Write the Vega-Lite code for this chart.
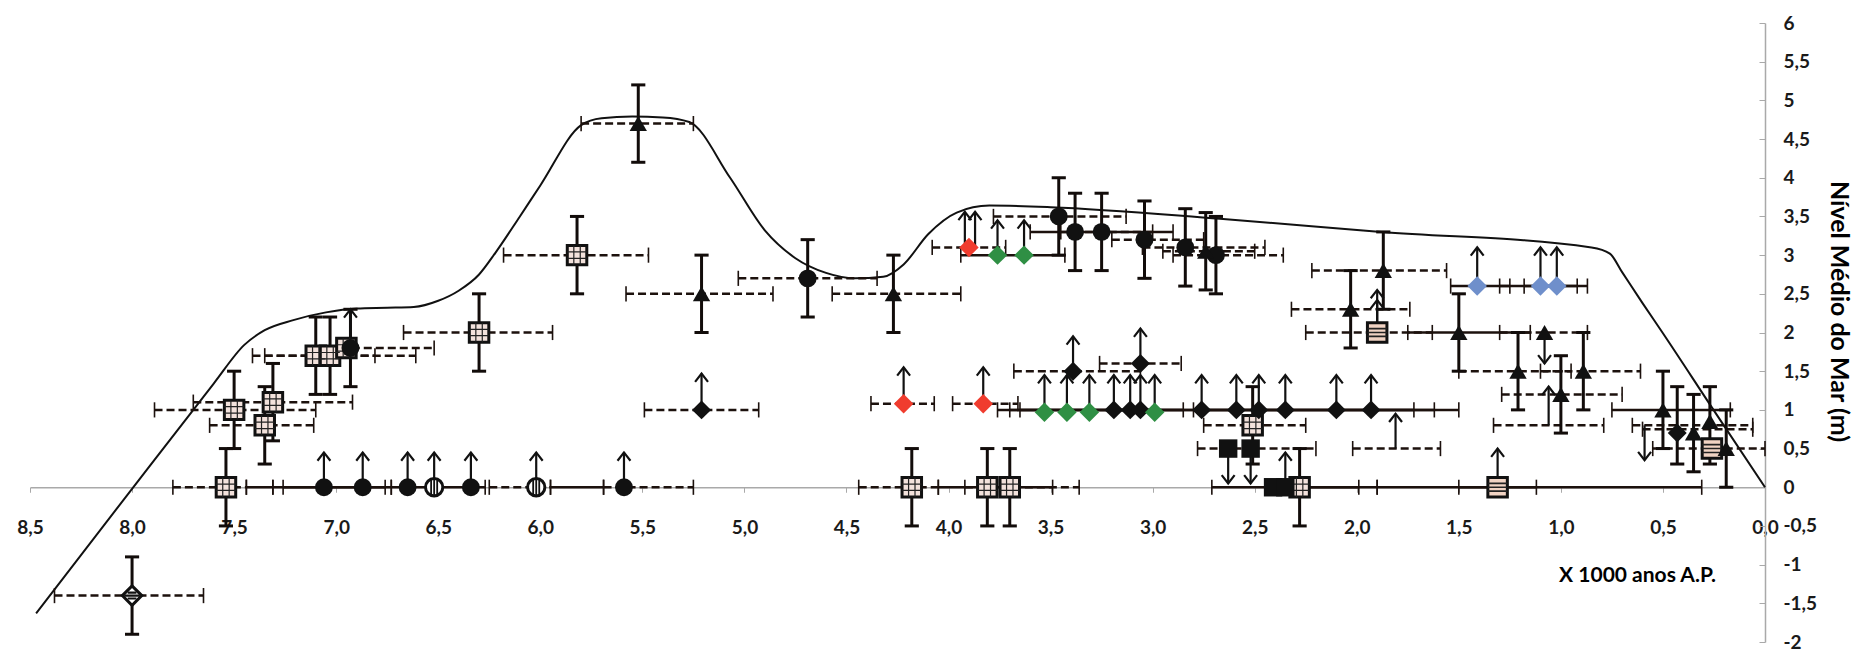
{
  "$schema": "https://vega.github.io/schema/vega-lite/v6.json",
  "width": 1735,
  "height": 619,
  "autosize": "none",
  "padding": {"left": 30, "top": 23, "right": 91, "bottom": 11},
  "background": "white",
  "config": {"view": {"stroke": null}, "font": "Lato"},
  "datasets": {
    "curve": [
      {"x": 8.47, "y": -1.63}, {"x": 8.0, "y": -0.02}, {"x": 7.6, "y": 1.34}, {"x": 7.45, "y": 1.84},
      {"x": 7.35, "y": 2.03}, {"x": 7.21, "y": 2.16}, {"x": 7.05, "y": 2.26}, {"x": 6.9, "y": 2.31},
      {"x": 6.75, "y": 2.32}, {"x": 6.62, "y": 2.33}, {"x": 6.5, "y": 2.41}, {"x": 6.4, "y": 2.54},
      {"x": 6.3, "y": 2.75}, {"x": 6.22, "y": 3.03}, {"x": 6.1, "y": 3.5}, {"x": 6.0, "y": 3.9}, {"x": 5.8, "y": 4.68},
      {"x": 5.7, "y": 4.77}, {"x": 5.55, "y": 4.79}, {"x": 5.4, "y": 4.78}, {"x": 5.27, "y": 4.72},
      {"x": 5.07, "y": 4.0}, {"x": 4.9, "y": 3.32}, {"x": 4.75, "y": 2.96}, {"x": 4.6, "y": 2.77},
      {"x": 4.46, "y": 2.7}, {"x": 4.32, "y": 2.72}, {"x": 4.22, "y": 2.88}, {"x": 4.1, "y": 3.27},
      {"x": 3.96, "y": 3.55}, {"x": 3.8, "y": 3.64}, {"x": 3.5, "y": 3.62}, {"x": 2.67, "y": 3.47},
      {"x": 1.88, "y": 3.3}, {"x": 0.85, "y": 3.1}, {"x": 0.76, "y": 3.02}, {"x": 0.7, "y": 2.78},
      {"x": 0.6, "y": 2.38}, {"x": 0.5, "y": 1.99}, {"x": 0.25, "y": 0.99}, {"x": 0.0, "y": 0.0}
    ],
    "hbar": [
      {"y": 0, "x": 7.8, "x2": 7.44, "k": "d"},
      {"y": 0, "x": 7.44, "x2": 7.31, "k": "s"},
      {"y": 0, "x": 7.26, "x2": 6.76, "k": "s"},
      {"y": 0, "x": 7.31, "x2": 6.73, "k": "s"},
      {"y": 0, "x": 6.73, "x2": 6.27, "k": "s"},
      {"y": 0, "x": 6.25, "x2": 5.95, "k": "d"},
      {"y": 0, "x": 5.95, "x2": 5.69, "k": "s"},
      {"y": 0, "x": 5.69, "x2": 5.25, "k": "d"},
      {"y": 1.0, "x": 7.89, "x2": 7.1, "k": "d"},
      {"y": 1.1, "x": 7.7, "x2": 6.92, "k": "d"},
      {"y": 0.8, "x": 7.62, "x2": 7.11, "k": "d"},
      {"y": 1.7, "x": 7.41, "x2": 6.81, "k": "d"},
      {"y": 1.7, "x": 7.35, "x2": 6.61, "k": "d"},
      {"y": 1.8, "x": 7.1, "x2": 6.52, "k": "d"},
      {"y": 2.0, "x": 6.67, "x2": 5.94, "k": "d"},
      {"y": 3.0, "x": 6.18, "x2": 5.47, "k": "d"},
      {"y": 4.7, "x": 5.8, "x2": 5.25, "k": "d"},
      {"y": 2.5, "x": 5.58, "x2": 4.86, "k": "d"},
      {"y": 2.7, "x": 5.03, "x2": 4.35, "k": "d"},
      {"y": 2.5, "x": 4.57, "x2": 3.94, "k": "d"},
      {"y": 1.0, "x": 5.49, "x2": 4.93, "k": "d"},
      {"y": -1.4, "x": 8.38, "x2": 7.65, "k": "d"},
      {"y": 0, "x": 4.44, "x2": 4.05, "k": "d"},
      {"y": 0, "x": 4.05, "x2": 3.49, "k": "s"},
      {"y": 0, "x": 3.92, "x2": 3.36, "k": "d"},
      {"y": 1.08, "x": 4.38, "x2": 4.07, "k": "d"},
      {"y": 1.08, "x": 3.98, "x2": 3.66, "k": "d"},
      {"y": 1.0, "x": 3.76, "x2": 2.85, "k": "s"},
      {"y": 1.0, "x": 3.7, "x2": 1.72, "k": "s"},
      {"y": 1.0, "x": 3.65, "x2": 1.62, "k": "s"},
      {"y": 1.0, "x": 2.8, "x2": 1.5, "k": "s"},
      {"y": 1.5, "x": 3.68, "x2": 3.06, "k": "d"},
      {"y": 1.6, "x": 3.26, "x2": 2.86, "k": "d"},
      {"y": 3.1, "x": 4.08, "x2": 3.72, "k": "d"},
      {"y": 3.0, "x": 3.94, "x2": 3.43, "k": "s"},
      {"y": 3.5, "x": 3.78, "x2": 3.13, "k": "d"},
      {"y": 3.3, "x": 3.6, "x2": 2.9, "k": "s"},
      {"y": 3.3, "x": 3.45, "x2": 3.0, "k": "d"},
      {"y": 3.2, "x": 3.2, "x2": 2.75, "k": "d"},
      {"y": 3.1, "x": 3.05, "x2": 2.45, "k": "d"},
      {"y": 3.05, "x": 2.95, "x2": 2.5, "k": "d"},
      {"y": 3.0, "x": 2.9, "x2": 2.36, "k": "d"},
      {"y": 0.5, "x": 2.78, "x2": 2.2, "k": "d"},
      {"y": 0.8, "x": 2.75, "x2": 2.25, "k": "d"},
      {"y": 0, "x": 2.71, "x2": 1.99, "k": "s"},
      {"y": 0, "x": 2.28, "x2": 1.9, "k": "s"},
      {"y": 0, "x": 1.9, "x2": 1.12, "k": "s"},
      {"y": 0, "x": 1.5, "x2": 0.31, "k": "s"},
      {"y": 0.5, "x": 2.02, "x2": 1.59, "k": "d"},
      {"y": 2.8, "x": 2.22, "x2": 1.56, "k": "d"},
      {"y": 2.3, "x": 2.32, "x2": 1.74, "k": "d"},
      {"y": 2.0, "x": 2.25, "x2": 1.63, "k": "d"},
      {"y": 2.6, "x": 1.54, "x2": 1.25, "k": "s"},
      {"y": 2.6, "x": 1.3, "x2": 0.87, "k": "s"},
      {"y": 2.6, "x": 1.18, "x2": 0.92, "k": "s"},
      {"y": 2.0, "x": 1.75, "x2": 1.15, "k": "s"},
      {"y": 2.0, "x": 1.3, "x2": 0.87, "k": "d"},
      {"y": 1.5, "x": 1.5, "x2": 0.95, "k": "d"},
      {"y": 1.5, "x": 1.1, "x2": 0.61, "k": "d"},
      {"y": 1.2, "x": 1.29, "x2": 0.7, "k": "d"},
      {"y": 0.8, "x": 1.33, "x2": 0.79, "k": "d"},
      {"y": 1.0, "x": 0.75, "x2": 0.17, "k": "s"},
      {"y": 0.8, "x": 0.65, "x2": 0.06, "k": "d"},
      {"y": 0.75, "x": 0.6, "x2": 0.06, "k": "d"},
      {"y": 0.5, "x": 0.55, "x2": 0.0, "k": "d"}
    ],
    "vbar": [
      {"x": 8.0, "y": -1.9, "y2": -0.9}, {"x": 7.54, "y": -0.5, "y2": 0.5}, {"x": 7.5, "y": 0.5, "y2": 1.5},
      {"x": 7.31, "y": 0.6, "y2": 1.6}, {"x": 7.35, "y": 0.3, "y2": 1.3}, {"x": 7.1, "y": 1.2, "y2": 2.2},
      {"x": 7.03, "y": 1.2, "y2": 2.2}, {"x": 6.93, "y": 1.3, "y2": 2.3}, {"x": 6.3, "y": 1.5, "y2": 2.5},
      {"x": 5.82, "y": 2.5, "y2": 3.5}, {"x": 5.52, "y": 4.2, "y2": 5.2}, {"x": 5.21, "y": 2.0, "y2": 3.0},
      {"x": 4.69, "y": 2.2, "y2": 3.2}, {"x": 4.27, "y": 2.0, "y2": 3.0}, {"x": 4.18, "y": -0.5, "y2": 0.5},
      {"x": 3.81, "y": -0.5, "y2": 0.5}, {"x": 3.7, "y": -0.5, "y2": 0.5}, {"x": 3.46, "y": 3.0, "y2": 4.0},
      {"x": 3.38, "y": 2.8, "y2": 3.8}, {"x": 3.25, "y": 2.8, "y2": 3.8}, {"x": 3.04, "y": 2.7, "y2": 3.7},
      {"x": 2.84, "y": 2.6, "y2": 3.6}, {"x": 2.74, "y": 2.55, "y2": 3.55}, {"x": 2.69, "y": 2.5, "y2": 3.5},
      {"x": 2.51, "y": 0.3, "y2": 1.3}, {"x": 2.28, "y": -0.5, "y2": 0.5}, {"x": 1.87, "y": 2.3, "y2": 3.3},
      {"x": 2.03, "y": 1.8, "y2": 2.8}, {"x": 1.5, "y": 1.5, "y2": 2.5}, {"x": 1.21, "y": 1.0, "y2": 2.0},
      {"x": 0.89, "y": 1.0, "y2": 2.0}, {"x": 1.0, "y": 0.7, "y2": 1.7}, {"x": 0.5, "y": 0.5, "y2": 1.5},
      {"x": 0.43, "y": 0.3, "y2": 1.3}, {"x": 0.35, "y": 0.2, "y2": 1.2}, {"x": 0.27, "y": 0.3, "y2": 1.3},
      {"x": 0.19, "y": 0.0, "y2": 1.0}
    ],
    "arrow": [
      {"x": 7.06, "y": 0, "y2": 0.45, "d": "u"}, {"x": 6.87, "y": 0, "y2": 0.45, "d": "u"},
      {"x": 6.65, "y": 0, "y2": 0.45, "d": "u"}, {"x": 6.52, "y": 0, "y2": 0.45, "d": "u"},
      {"x": 6.34, "y": 0, "y2": 0.45, "d": "u"}, {"x": 6.02, "y": 0, "y2": 0.45, "d": "u"},
      {"x": 5.59, "y": 0, "y2": 0.45, "d": "u"}, {"x": 6.93, "y": 1.8, "y2": 2.3, "d": "u"},
      {"x": 5.21, "y": 1.0, "y2": 1.47, "d": "u"}, {"x": 4.22, "y": 1.08, "y2": 1.55, "d": "u"},
      {"x": 3.83, "y": 1.08, "y2": 1.55, "d": "u"}, {"x": 3.53, "y": 0.97, "y2": 1.45, "d": "u"},
      {"x": 3.42, "y": 0.97, "y2": 1.45, "d": "u"}, {"x": 3.31, "y": 0.97, "y2": 1.45, "d": "u"},
      {"x": 2.99, "y": 0.97, "y2": 1.45, "d": "u"}, {"x": 3.19, "y": 1.0, "y2": 1.45, "d": "u"},
      {"x": 3.11, "y": 1.0, "y2": 1.45, "d": "u"}, {"x": 3.06, "y": 1.0, "y2": 1.45, "d": "u"},
      {"x": 2.76, "y": 1.0, "y2": 1.45, "d": "u"}, {"x": 2.59, "y": 1.0, "y2": 1.45, "d": "u"},
      {"x": 2.48, "y": 1.0, "y2": 1.45, "d": "u"}, {"x": 2.35, "y": 1.0, "y2": 1.45, "d": "u"},
      {"x": 2.1, "y": 1.0, "y2": 1.45, "d": "u"}, {"x": 1.93, "y": 1.0, "y2": 1.45, "d": "u"},
      {"x": 3.39, "y": 1.5, "y2": 1.95, "d": "u"}, {"x": 3.06, "y": 1.6, "y2": 2.05, "d": "u"},
      {"x": 3.92, "y": 3.1, "y2": 3.56, "d": "u"}, {"x": 3.87, "y": 3.1, "y2": 3.56, "d": "u"},
      {"x": 3.76, "y": 3.0, "y2": 3.45, "d": "u"}, {"x": 3.63, "y": 3.0, "y2": 3.45, "d": "u"},
      {"x": 1.41, "y": 2.6, "y2": 3.1, "d": "u"}, {"x": 1.1, "y": 2.6, "y2": 3.1, "d": "u"},
      {"x": 1.02, "y": 2.6, "y2": 3.1, "d": "u"}, {"x": 1.9, "y": 2.0, "y2": 2.55, "d": "u"},
      {"x": 1.9, "y": 2.0, "y2": 2.42, "d": "u"}, {"x": 2.35, "y": 0, "y2": 0.45, "d": "u"},
      {"x": 1.81, "y": 0.5, "y2": 0.95, "d": "u"}, {"x": 1.31, "y": 0, "y2": 0.5, "d": "u"},
      {"x": 1.06, "y": 0.8, "y2": 1.3, "d": "u"},
      {"x": 2.63, "y": 0.5, "y2": 0.05, "d": "d"}, {"x": 2.52, "y": 0.5, "y2": 0.05, "d": "d"},
      {"x": 1.08, "y": 2.0, "y2": 1.6, "d": "d"}, {"x": 0.59, "y": 0.8, "y2": 0.35, "d": "d"}
    ],
    "pts": [
      {"x": 8.0, "y": -1.4, "s": "diamond_striped"},
      {"x": 7.54, "y": 0, "s": "square_grid"},
      {"x": 7.06, "y": 0, "s": "circle"}, {"x": 6.87, "y": 0, "s": "circle"}, {"x": 6.65, "y": 0, "s": "circle"},
      {"x": 6.52, "y": 0, "s": "circle_striped"}, {"x": 6.34, "y": 0, "s": "circle"},
      {"x": 6.02, "y": 0, "s": "circle_striped"}, {"x": 5.59, "y": 0, "s": "circle"},
      {"x": 7.5, "y": 1.0, "s": "square_grid"}, {"x": 7.31, "y": 1.1, "s": "square_grid"},
      {"x": 7.35, "y": 0.8, "s": "square_grid"}, {"x": 7.1, "y": 1.7, "s": "square_grid"},
      {"x": 7.03, "y": 1.7, "s": "square_grid"}, {"x": 6.95, "y": 1.8, "s": "square_grid"},
      {"x": 6.93, "y": 1.8, "s": "circle"}, {"x": 6.3, "y": 2.0, "s": "square_grid"},
      {"x": 5.82, "y": 3.0, "s": "square_grid"}, {"x": 5.52, "y": 4.7, "s": "triangle"},
      {"x": 5.21, "y": 2.5, "s": "triangle"}, {"x": 4.69, "y": 2.7, "s": "circle"},
      {"x": 4.27, "y": 2.5, "s": "triangle"}, {"x": 5.21, "y": 1.0, "s": "diamond_black"},
      {"x": 4.18, "y": 0, "s": "square_grid"}, {"x": 3.81, "y": 0, "s": "square_grid"},
      {"x": 3.7, "y": 0, "s": "square_grid"},
      {"x": 4.22, "y": 1.08, "s": "diamond_red"}, {"x": 3.83, "y": 1.08, "s": "diamond_red"},
      {"x": 3.53, "y": 0.97, "s": "diamond_green"}, {"x": 3.42, "y": 0.97, "s": "diamond_green"},
      {"x": 3.31, "y": 0.97, "s": "diamond_green"}, {"x": 2.99, "y": 0.97, "s": "diamond_green"},
      {"x": 3.19, "y": 1.0, "s": "diamond_black"}, {"x": 3.11, "y": 1.0, "s": "diamond_black"},
      {"x": 3.06, "y": 1.0, "s": "diamond_black"}, {"x": 2.76, "y": 1.0, "s": "diamond_black"},
      {"x": 2.59, "y": 1.0, "s": "diamond_black"}, {"x": 2.48, "y": 1.0, "s": "diamond_black"},
      {"x": 2.35, "y": 1.0, "s": "diamond_black"}, {"x": 2.1, "y": 1.0, "s": "diamond_black"},
      {"x": 1.93, "y": 1.0, "s": "diamond_black"}, {"x": 3.39, "y": 1.5, "s": "diamond_black"},
      {"x": 3.06, "y": 1.6, "s": "diamond_black"},
      {"x": 3.9, "y": 3.1, "s": "diamond_red"}, {"x": 3.76, "y": 3.0, "s": "diamond_green"},
      {"x": 3.63, "y": 3.0, "s": "diamond_green"},
      {"x": 3.46, "y": 3.5, "s": "circle"}, {"x": 3.38, "y": 3.3, "s": "circle"}, {"x": 3.25, "y": 3.3, "s": "circle"},
      {"x": 3.04, "y": 3.2, "s": "circle"}, {"x": 2.84, "y": 3.1, "s": "circle"},
      {"x": 2.74, "y": 3.05, "s": "triangle"}, {"x": 2.69, "y": 3.0, "s": "circle"},
      {"x": 2.63, "y": 0.5, "s": "square_black"}, {"x": 2.52, "y": 0.5, "s": "square_black"},
      {"x": 2.51, "y": 0.8, "s": "square_grid"}, {"x": 2.41, "y": 0, "s": "square_black"},
      {"x": 2.35, "y": 0, "s": "square_black"}, {"x": 2.28, "y": 0, "s": "square_grid"},
      {"x": 1.31, "y": 0, "s": "square_striped"},
      {"x": 1.87, "y": 2.8, "s": "triangle"}, {"x": 2.03, "y": 2.3, "s": "triangle"},
      {"x": 1.9, "y": 2.0, "s": "square_striped"},
      {"x": 1.41, "y": 2.6, "s": "diamond_blue"}, {"x": 1.1, "y": 2.6, "s": "diamond_blue"},
      {"x": 1.02, "y": 2.6, "s": "diamond_blue"},
      {"x": 1.5, "y": 2.0, "s": "triangle"}, {"x": 1.08, "y": 2.0, "s": "triangle"},
      {"x": 1.21, "y": 1.5, "s": "triangle"}, {"x": 0.89, "y": 1.5, "s": "triangle"},
      {"x": 1.0, "y": 1.2, "s": "triangle"}, {"x": 0.5, "y": 1.0, "s": "triangle"},
      {"x": 0.43, "y": 0.7, "s": "diamond_black"}, {"x": 0.35, "y": 0.7, "s": "triangle"},
      {"x": 0.27, "y": 0.85, "s": "triangle"}, {"x": 0.26, "y": 0.5, "s": "square_striped"},
      {"x": 0.19, "y": 0.5, "s": "triangle"}
    ]
  },
  "encoding": {
    "x": {
      "field": "x", "type": "quantitative",
      "scale": {"domain": [0, 8.5], "reverse": true, "nice": false, "zero": false},
      "axis": {
        "orient": "bottom", "offset": -154.75,
        "values": [0, 0.5, 1, 1.5, 2, 2.5, 3, 3.5, 4, 4.5, 5, 5.5, 6, 6.5, 7, 7.5, 8, 8.5],
        "labelExpr": "replace(format(datum.value, '.1f'), '.', ',')",
        "grid": false, "domainColor": "#a9a9a9", "domainWidth": 1.5, "tickColor": "#a9a9a9", "tickSize": 5,
        "labelFont": "Lato", "labelFontWeight": "bold", "labelFontSize": 19, "labelColor": "#1a1a1a",
        "labelPadding": 26, "labelFlush": false, "labelOverlap": false,
        "title": "X 1000 anos A.P.", "titleFont": "Lato", "titleFontSize": 21, "titleFontWeight": "bold",
        "titleX": 1607, "titleY": 88, "titleAlign": "center", "titleBaseline": "middle", "titleColor": "#000000"
      }
    },
    "y": {
      "field": "y", "type": "quantitative",
      "scale": {"domain": [-2, 6], "nice": false, "zero": false},
      "axis": {
        "orient": "right",
        "values": [-2, -1.5, -1, -0.5, 0, 0.5, 1, 1.5, 2, 2.5, 3, 3.5, 4, 4.5, 5, 5.5, 6],
        "labelExpr": "replace(toString(datum.value), '.', ',')",
        "grid": false, "domainColor": "#a9a9a9", "domainWidth": 1.5, "tickColor": "#a9a9a9", "tickSize": -6,
        "labelFont": "Lato", "labelFontWeight": "bold", "labelFontSize": 19, "labelColor": "#1a1a1a",
        "labelPadding": 24, "labelFlush": false, "labelOverlap": false,
        "title": "Nível Médio do Mar (m)", "titleFont": "Lato", "titleFontSize": 25, "titleFontWeight": "bold",
        "titleAngle": 90, "titleX": 73, "titleY": 288, "titleAlign": "center", "titleBaseline": "middle", "titleColor": "#000000"
      }
    }
  },
  "layer": [
    {
      "data": {"name": "curve"},
      "mark": {"type": "line", "interpolate": "monotone", "color": "#111111", "strokeWidth": 2},
      "encoding": {"order": {"field": "x", "type": "quantitative", "sort": "descending"}}
    },
    {
      "data": {"name": "hbar"},
      "transform": [{"filter": "datum.k == 'd'"}],
      "mark": {"type": "rule", "strokeDash": [8, 4], "strokeWidth": 2.5, "color": "#1c110d"},
      "encoding": {"x2": {"field": "x2"}}
    },
    {
      "data": {"name": "hbar"},
      "transform": [{"filter": "datum.k == 's'"}],
      "mark": {"type": "rule", "strokeWidth": 2.5, "color": "#1c110d"},
      "encoding": {"x2": {"field": "x2"}}
    },
    {
      "data": {"name": "hbar"},
      "transform": [{"fold": ["x", "x2"], "as": ["end", "x"]}],
      "mark": {"type": "point", "shape": "M0,-1L0,1", "filled": false, "size": 230, "strokeWidth": 1.6, "color": "#1c110d", "opacity": 1}
    },
    {
      "data": {"name": "vbar"},
      "mark": {"type": "rule", "strokeWidth": 3, "color": "#120c0a"},
      "encoding": {"y2": {"field": "y2"}}
    },
    {
      "data": {"name": "vbar"},
      "transform": [{"fold": ["y", "y2"], "as": ["end", "y"]}],
      "mark": {"type": "point", "shape": "M-1,0L1,0", "filled": false, "size": 200, "strokeWidth": 3, "color": "#120c0a", "opacity": 1}
    },
    {
      "data": {"name": "arrow"},
      "mark": {"type": "rule", "strokeWidth": 2.2, "color": "#111111"},
      "encoding": {"y2": {"field": "y2"}}
    },
    {
      "data": {"name": "arrow"},
      "transform": [{"filter": "datum.d == 'u'"}, {"fold": ["y2"], "as": ["end", "y"]}],
      "mark": {"type": "point", "shape": "M-0.7,0.9L0,0L0.7,0.9", "filled": false, "size": 340, "strokeWidth": 2.2, "color": "#111111", "opacity": 1}
    },
    {
      "data": {"name": "arrow"},
      "transform": [{"filter": "datum.d == 'd'"}, {"fold": ["y2"], "as": ["end", "y"]}],
      "mark": {"type": "point", "shape": "M-0.7,-0.9L0,0L0.7,-0.9", "filled": false, "size": 340, "strokeWidth": 2.2, "color": "#111111", "opacity": 1}
    },
    {
      "data": {"name": "pts"},
      "transform": [{"filter": "datum.s == 'square_grid'"}],
      "mark": {"type": "point", "shape": "square", "filled": true, "size": 380, "fill": "#f3e2dc", "stroke": "#111111", "strokeWidth": 3, "opacity": 1}
    },
    {
      "data": {"name": "pts"},
      "transform": [{"filter": "datum.s == 'square_grid'"}],
      "mark": {"type": "point", "shape": "M-0.33,-1L-0.33,1M0.33,-1L0.33,1M-1,-0.33L1,-0.33M-1,0.33L1,0.33", "filled": false, "size": 380, "stroke": "#222222", "strokeWidth": 1.2, "opacity": 1}
    },
    {
      "data": {"name": "pts"},
      "transform": [{"filter": "datum.s == 'square_striped'"}],
      "mark": {"type": "point", "shape": "square", "filled": true, "size": 380, "fill": "#f1d3c3", "stroke": "#111111", "strokeWidth": 3, "opacity": 1}
    },
    {
      "data": {"name": "pts"},
      "transform": [{"filter": "datum.s == 'square_striped'"}],
      "mark": {"type": "point", "shape": "M-1,-0.4L1,-0.4M-1,0L1,0M-1,0.4L1,0.4", "filled": false, "size": 380, "stroke": "#222222", "strokeWidth": 1.6, "opacity": 1}
    },
    {
      "data": {"name": "pts"},
      "transform": [{"filter": "datum.s == 'square_black'"}],
      "mark": {"type": "point", "shape": "square", "filled": true, "size": 340, "color": "#111111", "opacity": 1}
    },
    {
      "data": {"name": "pts"},
      "transform": [{"filter": "datum.s == 'circle_striped'"}],
      "mark": {"type": "point", "shape": "circle", "filled": true, "size": 300, "fill": "#ffffff", "stroke": "#111111", "strokeWidth": 3, "opacity": 1}
    },
    {
      "data": {"name": "pts"},
      "transform": [{"filter": "datum.s == 'circle_striped'"}],
      "mark": {"type": "point", "shape": "M-0.35,-0.85L-0.35,0.85M0,-1L0,1M0.35,-0.85L0.35,0.85", "filled": false, "size": 300, "stroke": "#111111", "strokeWidth": 1.8, "opacity": 1}
    },
    {
      "data": {"name": "pts"},
      "transform": [{"filter": "datum.s == 'diamond_striped'"}],
      "mark": {"type": "point", "shape": "diamond", "filled": true, "size": 380, "fill": "#ffffff", "stroke": "#111111", "strokeWidth": 3, "opacity": 1}
    },
    {
      "data": {"name": "pts"},
      "transform": [{"filter": "datum.s == 'diamond_striped'"}],
      "mark": {"type": "point", "shape": "M-0.45,-0.3L0.45,-0.3M-0.8,0L0.8,0M-0.45,0.3L0.45,0.3", "filled": false, "size": 380, "stroke": "#111111", "strokeWidth": 2.2, "opacity": 1}
    },
    {
      "data": {"name": "pts"},
      "transform": [{"filter": "datum.s == 'circle'"}],
      "mark": {"type": "point", "shape": "circle", "filled": true, "size": 320, "color": "#111111", "opacity": 1}
    },
    {
      "data": {"name": "pts"},
      "transform": [{"filter": "datum.s == 'triangle'"}],
      "mark": {"type": "point", "shape": "triangle-up", "filled": true, "size": 300, "color": "#111111", "opacity": 1}
    },
    {
      "data": {"name": "pts"},
      "transform": [{"filter": "datum.s == 'diamond_black'"}],
      "mark": {"type": "point", "shape": "diamond", "filled": true, "size": 360, "color": "#111111", "opacity": 1}
    },
    {
      "data": {"name": "pts"},
      "transform": [{"filter": "datum.s == 'diamond_red'"}],
      "mark": {"type": "point", "shape": "diamond", "filled": true, "size": 380, "color": "#f03c2e", "opacity": 1}
    },
    {
      "data": {"name": "pts"},
      "transform": [{"filter": "datum.s == 'diamond_green'"}],
      "mark": {"type": "point", "shape": "diamond", "filled": true, "size": 380, "color": "#2f8f44", "opacity": 1}
    },
    {
      "data": {"name": "pts"},
      "transform": [{"filter": "datum.s == 'diamond_blue'"}],
      "mark": {"type": "point", "shape": "diamond", "filled": true, "size": 380, "color": "#6f8fcb", "opacity": 1}
    }
  ]
}
